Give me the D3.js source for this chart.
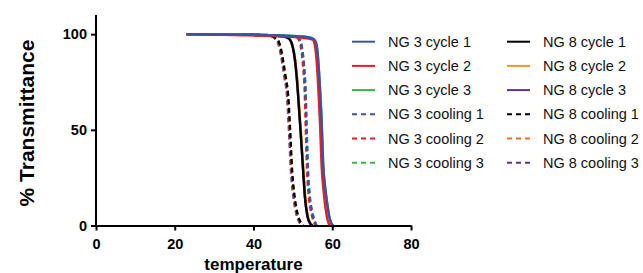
<!DOCTYPE html>
<html>
<head>
<meta charset="utf-8">
<script src="https://cdn.jsdelivr.net/npm/d3@7"></script>
<style>
  body { margin: 0; background: #fff; }
  text { font-family: "Liberation Sans", Arial, sans-serif; }
</style>
</head>
<body>
<div id="viz"></div>
<script>
// series as [temperature, % transmittance] pairs
const ng3Cycle1 = [[23,100],[35,99.8],[45,99.4],[52,98.8],[55,97.8],[55.8,96],[56.3,90],[56.8,75],[57.3,55],[57.7,32],[58.2,20],[58.7,12],[59.3,4],[59.8,1],[60.2,0]];
const ng3Cycle2 = [[23,100],[35,99.5],[45,99],[52,98.2],[55,97.2],[55.5,95],[55.9,89],[56.4,74],[56.9,53],[57.3,31],[57.8,18],[58.3,9],[58.8,3],[59.3,0]];
const ng3Cycle3 = [[23,100],[35,99.8],[45,99.4],[52,98.8],[55,97.8],[55.8,96],[56.3,89.5],[56.8,74.5],[57.3,54.5],[57.7,31.5],[58.2,19.5],[58.7,11.5],[59.3,4],[59.8,1],[60.2,0]];
const ng3Cooling1 = [[23,100],[40,99.7],[48,99.2],[51,98.5],[51.8,97],[52.3,93],[52.8,84],[53.2,71],[53.5,50],[53.8,30],[54.3,15],[54.9,7],[55.5,2.5],[56,0]];
const ng3Cooling2 = [[23,100],[40,99.6],[48,99],[51,98.3],[51.6,96.8],[52.1,92.5],[52.6,83],[53,70],[53.3,49],[53.6,29],[54.1,14],[54.7,6.5],[55.3,2],[55.8,0]];
const ng3Cooling3 = [[23,100],[40,99.7],[48,99.2],[51,98.5],[51.8,97],[52.3,93],[52.8,84],[53.2,71],[53.5,50],[53.8,30],[54.3,15],[54.9,7],[55.5,2.5],[56,0]];
const ng8Cycle1 = [[23,100],[40,99.7],[46,99.2],[48.3,98.5],[49.3,97],[50,93],[50.5,87],[51,77],[51.4,66],[52,48],[52.6,29],[53.1,14],[53.7,5],[54.4,1],[55,0]];
const ng8Cycle2 = [[23,100],[40,99.7],[46,99.1],[48.4,98.4],[49.4,96.8],[50.1,92.5],[50.6,86.5],[51.1,76.5],[51.5,65.5],[52.1,47.5],[52.7,28.5],[53.2,13.5],[53.8,4.5],[54.5,1],[55.1,0]];
const ng8Cycle3 = [[23,100],[40,99.7],[46,99.2],[48.3,98.5],[49.3,97],[50,93],[50.5,87],[51,77],[51.4,66],[52,48],[52.6,29],[53.1,14],[53.7,5],[54.4,1],[55,0]];
const ng8Cooling1 = [[23,100],[40,99.6],[44.5,99],[45.6,98],[46.4,96],[47,92],[47.6,85],[48.2,77],[48.8,68],[49.3,50],[49.8,29],[50.5,14],[51.2,6],[51.9,2],[52.6,0]];
const ng8Cooling2 = [[23,100],[40,99.6],[44.4,99],[45.5,98],[46.3,96],[46.9,92],[47.5,85],[48.1,77],[48.7,68],[49.2,50],[49.7,29],[50.4,14],[51.1,6],[51.8,2],[52.5,0]];
const ng8Cooling3 = [[23,100],[40,99.6],[44.2,99],[45.3,98],[46.1,96],[46.7,92],[47.3,85],[47.9,77],[48.5,68],[49,50],[49.5,29],[50.2,14],[50.9,6],[51.6,2],[52.3,0]];

const seriesNames = ["NG 3 cycle 1","NG 3 cycle 2","NG 3 cycle 3","NG 3 cooling 1","NG 3 cooling 2","NG 3 cooling 3",
                     "NG 8 cycle 1","NG 8 cycle 2","NG 8 cycle 3","NG 8 cooling 1","NG 8 cooling 2","NG 8 cooling 3"];
const seriesData = [ng3Cycle1, ng3Cycle2, ng3Cycle3, ng3Cooling1, ng3Cooling2, ng3Cooling3,
                    ng8Cycle1, ng8Cycle2, ng8Cycle3, ng8Cooling1, ng8Cooling2, ng8Cooling3];
const seriesColors = ["#3a53a4","#ed1c24","#39b54a","#3a53a4","#ed1c24","#39b54a",
                      "#000000","#f7941d","#662d91","#000000","#f26a2b","#662d91"];
const seriesDashed = [false,false,false,true,true,true,false,false,false,true,true,true];

const xTicks = [0, 20, 40, 60, 80];
const yTicks = [0, 50, 100];

const width = 643, height = 273;

const svg = d3.select("#viz").append("svg")
    .attr("width", width)
    .attr("height", height);

const x = d3.scaleLinear().domain([0, 80]).range([96, 411]);
const y = d3.scaleLinear().domain([0, 110]).range([225.5, 15]);

const line = d3.line()
    .x(d => x(d[0]))
    .y(d => y(d[1]))
    .curve(d3.curveMonotoneX);

// draw last series first so the first ones sit on top (like Prism does)
const order = d3.range(seriesData.length).reverse();
svg.append("g").selectAll("path")
  .data(order)
  .join("path")
    .attr("d", i => line(seriesData[i]))
    .attr("fill", "none")
    .attr("stroke", i => seriesColors[i])
    .attr("stroke-width", 2.4)
    .attr("stroke-dasharray", i => seriesDashed[i] ? "5,3.5" : null);

// axes
const xAxis = svg.append("g")
    .attr("transform", `translate(0,${y(0)})`)
    .call(d3.axisBottom(x).tickValues(xTicks).tickSize(5).tickPadding(8).tickSizeOuter(0));
const yAxis = svg.append("g")
    .attr("transform", `translate(${x(0)},0)`)
    .call(d3.axisLeft(y).tickValues(yTicks).tickSize(5).tickPadding(4).tickSizeOuter(0));

[xAxis, yAxis].forEach(a => {
  a.select(".domain").attr("stroke", "#000").attr("stroke-width", 2);
  a.selectAll(".tick line").attr("stroke", "#000").attr("stroke-width", 2);
  a.selectAll(".tick text")
    .attr("fill", "#000")
    .style("font-family", '"Liberation Sans", Arial, sans-serif')
    .style("font-size", "14.5px")
    .style("font-weight", "bold");
});
// the y axis line runs to the top of the plot
yAxis.select(".domain").attr("d", `M0,${y(0)}V${y(110)}`);

svg.append("text")
    .attr("x", x(40))
    .attr("y", 270)
    .attr("text-anchor", "middle")
    .style("font-size", "17px")
    .style("font-weight", "bold")
    .text("temperature");

svg.append("text")
    .attr("transform", "translate(34,123) rotate(-90)")
    .attr("text-anchor", "middle")
    .style("font-size", "21px")
    .style("font-weight", "bold")
    .text("% Transmittance");

// legend, two columns of six
const legend = svg.append("g").selectAll("g")
  .data(d3.range(seriesNames.length))
  .join("g")
    .attr("transform", i => `translate(${i < 6 ? 352 : 507},${41.7 + (i % 6) * 24.2})`);

legend.append("line")
    .attr("x1", 0).attr("x2", 23)
    .attr("stroke", i => seriesColors[i])
    .attr("stroke-width", 2)
    .attr("stroke-dasharray", i => seriesDashed[i] ? "5,4" : null);

legend.append("text")
    .attr("x", 36)
    .attr("y", 5)
    .style("font-size", "14.5px")
    .attr("fill", "#111")
    .text(i => seriesNames[i]);
</script>
</body>
</html>
